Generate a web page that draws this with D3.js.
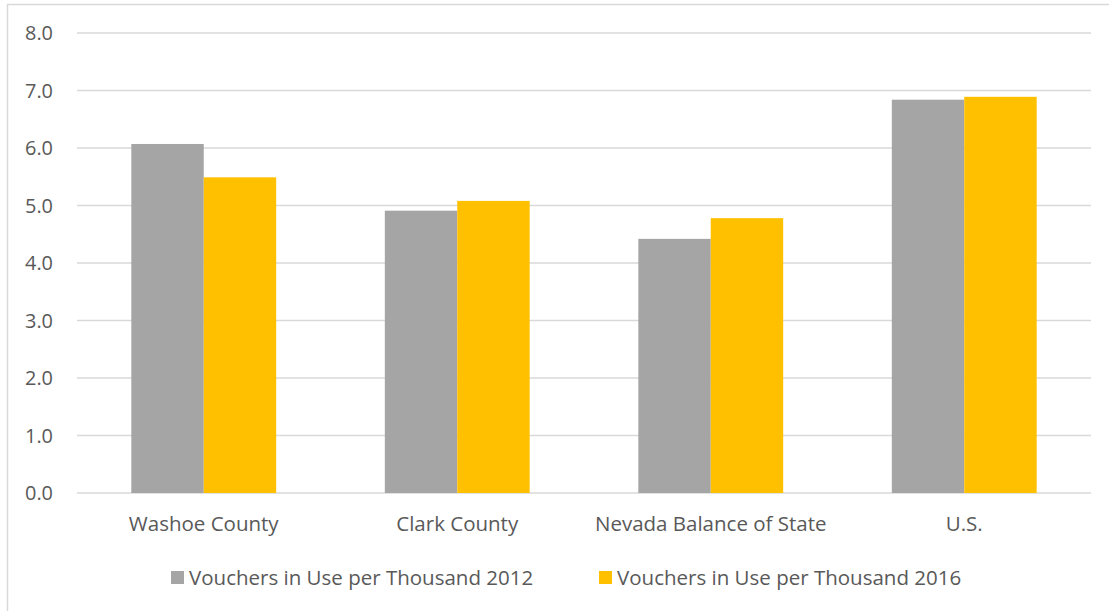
<!DOCTYPE html>
<html>
<head>
<meta charset="utf-8">
<script src="https://cdn.jsdelivr.net/npm/d3@7"></script>
<style>
  body { margin: 0; background: #fff; }
  text { font-family: "Open Sans", "DejaVu Sans", sans-serif; fill: #595959; }
</style>
</head>
<body>
<div id="viz"></div>
<script>
// chart data
const categories = ["Washoe County", "Clark County", "Nevada Balance of State", "U.S."];
const seriesNames = ["Vouchers in Use per Thousand 2012", "Vouchers in Use per Thousand 2016"];
const values2012 = [6.07, 4.91, 4.42, 6.84];
const values2016 = [5.49, 5.08, 4.78, 6.89];
const yTicks = [0, 1, 2, 3, 4, 5, 6, 7, 8];

const colors = ["#A5A5A5", "#FFC000"];

const width = 1109;
const height = 611;

const svg = d3.select("#viz").append("svg")
    .attr("width", width)
    .attr("height", height);

// chart border (only top and left visible)
svg.append("line")
    .attr("x1", 7).attr("x2", width).attr("y1", 4.5).attr("y2", 4.5)
    .attr("stroke", "#D9D9D9").attr("stroke-width", 1.5);
svg.append("line")
    .attr("x1", 7.5).attr("x2", 7.5).attr("y1", 4).attr("y2", height)
    .attr("stroke", "#D9D9D9").attr("stroke-width", 1.5);

const margin = {left: 77, right: 18, top: 33, bottom: 118};

const y = d3.scaleLinear()
    .domain([0, 8])
    .range([height - margin.bottom, margin.top]);

const x0 = d3.scaleBand()
    .domain(categories)
    .range([margin.left, width - margin.right])
    .paddingInner(0)
    .paddingOuter(0);

// gap width 150% like excel
const barW = x0.bandwidth() / 3.5;
const x1 = d3.scaleBand()
    .domain([0, 1])
    .range([0, barW * 2]);

// gridlines
svg.append("g")
    .selectAll("line")
    .data(yTicks)
    .join("line")
    .attr("x1", margin.left)
    .attr("x2", width - margin.right)
    .attr("y1", d => y(d))
    .attr("y2", d => y(d))
    .attr("stroke", "#D9D9D9")
    .attr("stroke-width", 1.5);

// y labels
svg.append("g")
    .selectAll("text")
    .data(yTicks)
    .join("text")
    .attr("x", 53)
    .attr("y", d => y(d))
    .attr("dy", "0.36em")
    .attr("text-anchor", "end")
    .style("font-size", "20px")
    .attr("textLength", 28)
    .attr("lengthAdjust", "spacingAndGlyphs")
    .text(d => d.toFixed(1));

// bars
const rows = categories.map((c, i) => ({cat: c, vals: [values2012[i], values2016[i]]}));

const groups = svg.append("g")
    .selectAll("g")
    .data(rows)
    .join("g")
    .attr("transform", d => "translate(" + (x0(d.cat) + (x0.bandwidth() - barW * 2) / 2) + ",0)");

groups.selectAll("rect")
    .data(d => d.vals.map((v, k) => ({k: k, v: v})))
    .join("rect")
    .attr("x", d => x1(d.k))
    .attr("width", x1.bandwidth())
    .attr("y", d => y(d.v))
    .attr("height", d => y(0) - y(d.v))
    .attr("fill", d => colors[d.k]);

// category labels
svg.append("g")
    .selectAll("text")
    .data(categories)
    .join("text")
    .attr("x", d => x0(d) + x0.bandwidth() / 2)
    .attr("y", 531)
    .attr("text-anchor", "middle")
    .style("font-size", "20.5px")
    .text(d => d);

// legend
const legendX = [171, 599];
const legend = svg.append("g");
seriesNames.forEach((name, i) => {
  legend.append("rect")
    .attr("x", legendX[i])
    .attr("y", 571)
    .attr("width", 13)
    .attr("height", 13)
    .attr("fill", colors[i]);
  legend.append("text")
    .attr("x", legendX[i] + 18)
    .attr("y", 578)
    .attr("dy", "0.36em")
    .style("font-size", "20.5px")
    .text(name);
});
</script>
</body>
</html>
